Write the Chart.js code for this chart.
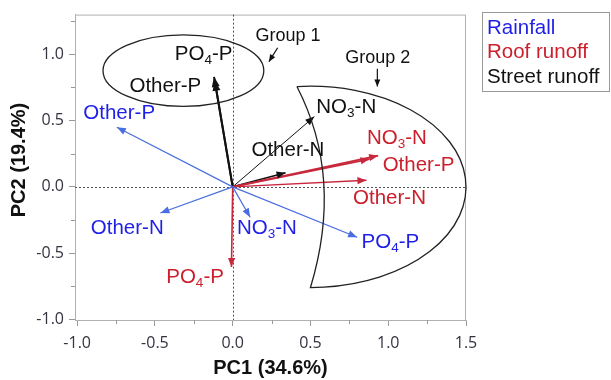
<!DOCTYPE html>
<html>
<head>
<meta charset="utf-8">
<script src="https://cdn.jsdelivr.net/npm/chart.js@4"></script>
<style>
  html, body { margin: 0; background: #fff; }
  #wrap { width: 611px; height: 380px; }
</style>
</head>
<body>
<div id="wrap"><canvas id="pca"></canvas></div>
<script>
// loadings, variable order: PO4-P, Other-P, NO3-N, Other-N
const VARIABLES   = ["PO4-P", "Other-P", "NO3-N", "Other-N"];
const GROUPS      = ["Rainfall", "Roof runoff", "Street runoff"];
const RAIN_PC1    = [0.80, -0.745, 0.112, -0.465];
const RAIN_PC2    = [-0.38, 0.45, -0.23, -0.197];
const ROOF_PC1    = [-0.008, 0.88, 0.935, 0.86];
const ROOF_PC2    = [-0.605, 0.21, 0.235, 0.05];
const STREET_PC1  = [-0.12, -0.115, 0.525, 0.34];
const STREET_PC2  = [0.83, 0.80, 0.53, 0.107];

const X_TICKS     = [-1.0, -0.5, 0.0, 0.5, 1.0, 1.5];
const Y_TICKS     = [-1.0, -0.5, 0.0, 0.5, 1.0];
const X_MINOR     = [-0.75, -0.25, 0.25, 0.75, 1.25];
const Y_MINOR     = [-0.75, -0.25, 0.25, 0.75, 1.25];

const TEXT_COLORS  = ["#1f1fe8", "#cc1f2b", "#111111"];
const ARROW_COLORS = ["#4a6ee0", "#c8283c", "#111111"];
// line width per group, per variable
const ARROW_WIDTHS = [[1.2, 1.2, 1.2, 1.2], [1.6, 1.8, 1.8, 1.4], [2, 2, 1, 1.5]];

// label anchors (centre of text, in data units), same order as VARIABLES
const LABEL_POS = [
  [[1.014, -0.42], [-0.73, 0.555], [0.22, -0.315], [-0.678, -0.315]],
  [[-0.242, -0.682], [1.195, 0.165], [1.056, 0.367], [1.008, -0.09]],
  [[-0.187, 0.997], [-0.433, 0.757], [0.73, 0.60], [0.355, 0.277]],
];

const LABEL_FONT = '20.5px "Liberation Sans", Arial, sans-serif';
const SUB_FONT   = '13.5px "Liberation Sans", Arial, sans-serif';
const TICK_FONT  = { family: "Open Sans", size: 16 };

const PC1 = [RAIN_PC1, ROOF_PC1, STREET_PC1];
const PC2 = [RAIN_PC2, ROOF_PC2, STREET_PC2];

const datasets = [];
GROUPS.forEach((g, gi) => {
  VARIABLES.forEach((v, vi) => {
    datasets.push({
      label: `${g} ${v}`,
      group: gi,
      varIndex: vi,
      data: [{ x: 0, y: 0 }, { x: PC1[gi][vi], y: PC2[gi][vi] }],
      showLine: true,
      borderColor: ARROW_COLORS[gi],
      borderWidth: ARROW_WIDTHS[gi][vi],
      pointRadius: 0,
      pointHoverRadius: 0,
    });
  });
});

function drawHead(ctx, x0, y0, x1, y1, len, half, color) {
  const a = Math.atan2(y1 - y0, x1 - x0);
  ctx.save();
  ctx.fillStyle = color;
  ctx.beginPath();
  ctx.moveTo(x1, y1);
  ctx.lineTo(x1 - len * Math.cos(a) + half * Math.sin(a), y1 - len * Math.sin(a) - half * Math.cos(a));
  ctx.lineTo(x1 - len * Math.cos(a) - half * Math.sin(a), y1 - len * Math.sin(a) + half * Math.cos(a));
  ctx.closePath();
  ctx.fill();
  ctx.restore();
}

// "PO4-P" -> PO, subscript 4, -P
function drawChem(ctx, text, cx, cy, color) {
  const m = text.match(/^([A-Z]+)(\d)(.*)$/);
  ctx.save();
  ctx.fillStyle = color;
  ctx.textBaseline = "middle";
  ctx.textAlign = "left";
  ctx.font = LABEL_FONT;
  if (!m) {
    const w = ctx.measureText(text).width;
    ctx.fillText(text, cx - w / 2, cy);
  } else {
    const w1 = ctx.measureText(m[1]).width;
    const w3 = ctx.measureText(m[3]).width;
    ctx.font = SUB_FONT;
    const w2 = ctx.measureText(m[2]).width;
    const x = cx - (w1 + w2 + w3) / 2;
    ctx.font = LABEL_FONT;
    ctx.fillText(m[1], x, cy);
    ctx.fillText(m[3], x + w1 + w2, cy);
    ctx.font = SUB_FONT;
    ctx.fillText(m[2], x + w1, cy + 6);
  }
  ctx.restore();
}

const biplotPlugin = {
  id: "biplot",
  beforeDatasetsDraw(chart) {
    const { ctx, chartArea: a, scales: { x, y } } = chart;
    ctx.save();
    // frame
    ctx.strokeStyle = "#b0b0b0";
    ctx.lineWidth = 1;
    ctx.strokeRect(a.left + 0.5, a.top + 0.5, a.right - a.left - 1, a.bottom - a.top);
    // zero lines
    ctx.strokeStyle = "#555";
    ctx.setLineDash([2, 2]);
    const x0 = Math.round(x.getPixelForValue(0)) + 0.5;
    const y0 = Math.round(y.getPixelForValue(0)) + 0.5;
    ctx.beginPath();
    ctx.moveTo(x0, a.top); ctx.lineTo(x0, a.bottom);
    ctx.moveTo(a.left, y0); ctx.lineTo(a.right, y0);
    ctx.stroke();
    ctx.setLineDash([]);
    // minor ticks
    ctx.strokeStyle = "#999";
    ctx.beginPath();
    X_MINOR.forEach(v => {
      const p = Math.round(x.getPixelForValue(v)) + 0.5;
      ctx.moveTo(p, a.bottom); ctx.lineTo(p, a.bottom + 4);
    });
    Y_MINOR.forEach(v => {
      const p = Math.round(y.getPixelForValue(v)) + 0.5;
      ctx.moveTo(a.left, p); ctx.lineTo(a.left - 4, p);
    });
    ctx.stroke();
    ctx.restore();
  },
  afterDatasetsDraw(chart) {
    const { ctx, scales: { x, y } } = chart;
    ctx.save();

    // arrow heads
    chart.data.datasets.forEach((ds, i) => {
      const pts = chart.getDatasetMeta(i).data;
      const big = ds.group === 2 && ds.varIndex < 2;
      drawHead(ctx, pts[0].x, pts[0].y, pts[1].x, pts[1].y, big ? 10 : 9, big ? 4 : 3.6, ARROW_COLORS[ds.group]);
    });

    ctx.strokeStyle = "#222";
    ctx.lineWidth = 1.3;
    const px = v => x.getPixelForValue(v);
    const py = v => y.getPixelForValue(v);

    // group 1 ellipse
    const e1 = { cx: -0.317, cy: 0.877, rx: 0.517, ry: 0.27 };
    ctx.beginPath();
    ctx.ellipse(px(e1.cx), py(e1.cy), px(e1.cx + e1.rx) - px(e1.cx), py(e1.cy) - py(e1.cy + e1.ry), 0, 0, Math.PI * 2);
    ctx.stroke();

    // group 2 crescent
    const e2 = { cx: 0.5, cy: 0.0, rx: 1.0, ry: 0.76, start: -95, end: 90, ctrl: [0.714, 0.071] };
    const c2x = px(e2.cx), c2y = py(e2.cy);
    const r2x = px(e2.cx + e2.rx) - c2x, r2y = c2y - py(e2.cy + e2.ry);
    const t0 = e2.start * Math.PI / 180, t1 = e2.end * Math.PI / 180;
    ctx.beginPath();
    ctx.ellipse(c2x, c2y, r2x, r2y, 0, t0, t1, false);
    ctx.quadraticCurveTo(px(e2.ctrl[0]), py(e2.ctrl[1]), c2x + r2x * Math.cos(t0), c2y + r2y * Math.sin(t0));
    ctx.stroke();

    // group captions with pointers
    ctx.fillStyle = "#111";
    ctx.font = '18px "Liberation Sans", Arial, sans-serif';
    ctx.textAlign = "center";
    ctx.textBaseline = "middle";
    ctx.fillText("Group 1", px(0.355), py(1.14));
    ctx.fillText("Group 2", px(0.933), py(0.975));
    ctx.lineWidth = 1.2;
    ctx.strokeStyle = "#111";
    [[0.289, 1.05, 0.233, 0.945], [0.93, 0.892, 0.93, 0.757]].forEach(([ax, ay, bx, by]) => {
      ctx.beginPath();
      ctx.moveTo(px(ax), py(ay)); ctx.lineTo(px(bx), py(by));
      ctx.stroke();
      drawHead(ctx, px(ax), py(ay), px(bx), py(by), 7, 3, "#111");
    });

    // variable labels
    LABEL_POS.forEach((row, gi) => {
      row.forEach(([lx, ly], vi) => drawChem(ctx, VARIABLES[vi], px(lx), py(ly), TEXT_COLORS[gi]));
    });

    ctx.restore();
  },
  afterDraw(chart) {
    const { ctx } = chart;
    ctx.save();
    // legend box
    ctx.strokeStyle = "#999";
    ctx.lineWidth = 1;
    ctx.strokeRect(482.5, 12.5, 127, 79);
    ctx.font = LABEL_FONT;
    ctx.textAlign = "left";
    ctx.textBaseline = "middle";
    GROUPS.forEach((g, i) => {
      ctx.fillStyle = TEXT_COLORS[i];
      ctx.fillText(g, 487, 28 + i * 24.5);
    });
    // y title, drawn here so it can sit a little above centre like the original
    ctx.fillStyle = "#111";
    ctx.font = 'bold 20px "Liberation Sans", Arial, sans-serif';
    ctx.textAlign = "center";
    ctx.translate(19, 160);
    ctx.rotate(-Math.PI / 2);
    ctx.fillText("PC2 (19.4%)", 0, 0);
    ctx.restore();
  },
};

new Chart(document.getElementById("pca"), {
  type: "scatter",
  data: { datasets },
  plugins: [biplotPlugin],
  options: {
    responsive: true,
    maintainAspectRatio: false,
    animation: false,
    events: [],
    layout: { padding: { top: 12, right: 145, left: 0, bottom: 0 } },
    plugins: { legend: { display: false }, tooltip: { enabled: false } },
    scales: {
      x: {
        type: "linear",
        min: -1.014, max: 1.5,
        afterFit: s => { s.height = 60; },
        afterBuildTicks: s => { s.ticks = X_TICKS.map(v => ({ value: v })); },
        grid: { drawOnChartArea: false, tickLength: 6, color: "#999" },
        border: { display: true, color: "#b0b0b0" },
        ticks: { color: "#333340", font: TICK_FONT, padding: 8, maxRotation: 0, callback: v => v.toFixed(1) },
        title: { display: true, text: "PC1 (34.6%)", color: "#111",
                 font: { family: "Liberation Sans", size: 20, weight: "bold" }, padding: { top: 0, bottom: 0 } },
      },
      y: {
        type: "linear",
        min: -1.005, max: 1.30,
        afterFit: s => { s.width = 75; },
        afterBuildTicks: s => { s.ticks = Y_TICKS.map(v => ({ value: v })); },
        grid: { drawOnChartArea: false, tickLength: 6, color: "#999" },
        border: { display: true, color: "#b0b0b0" },
        ticks: { color: "#333340", font: TICK_FONT, padding: 5, callback: v => v.toFixed(1) },
        title: { display: false },
      },
    },
  },
});
</script>
</body>
</html>
